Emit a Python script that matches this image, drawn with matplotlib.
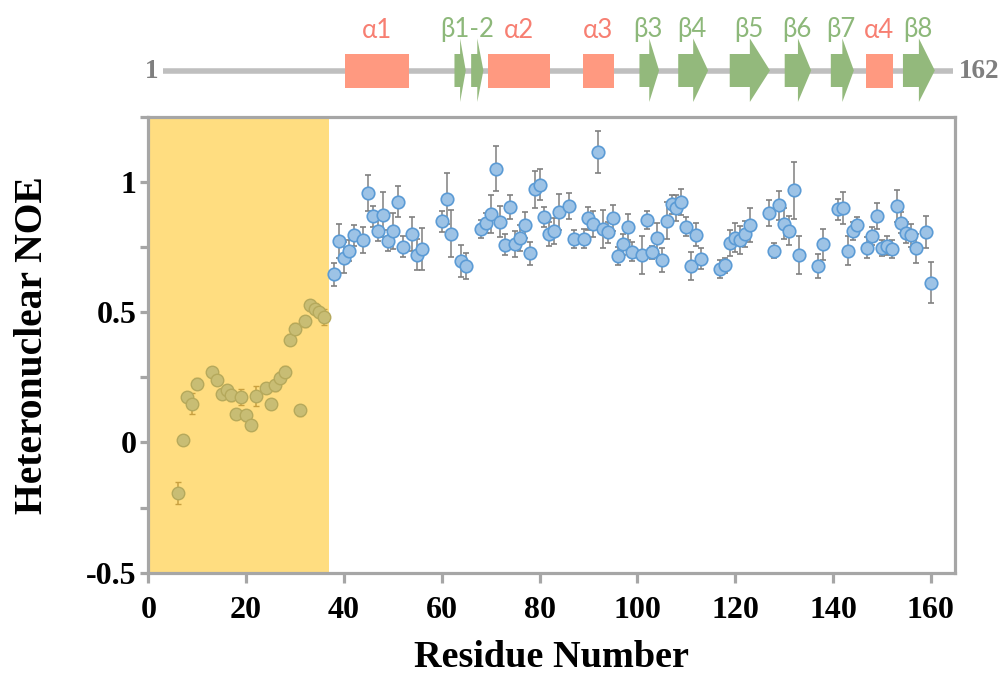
import matplotlib
matplotlib.use("Agg")
import matplotlib.pyplot as plt
from matplotlib.patches import Rectangle, Polygon
import numpy as np

# disordered N-terminal region (shaded)
res_n = [6, 7, 8, 9, 10, 13, 14, 15, 16, 17, 18, 19, 20, 21, 22, 24, 25, 26, 27, 28,
         29, 30, 31, 32, 33, 34, 35, 36]
noe_n = [-0.193, 0.009, 0.175, 0.148, 0.226, 0.271, 0.239, 0.187, 0.200, 0.181, 0.110,
         0.174, 0.104, 0.066, 0.178, 0.210, 0.147, 0.219, 0.249, 0.272, 0.395, 0.437,
         0.123, 0.465, 0.526, 0.514, 0.501, 0.481]
err_n = [0.042, 0.02, 0.02, 0.04, 0.02, 0.02, 0.02, 0.02, 0.02, 0.02, 0.02, 0.03, 0.02,
         0.02, 0.038, 0.02, 0.02, 0.02, 0.02, 0.02, 0.02, 0.02, 0.02, 0.02, 0.02, 0.02,
         0.02, 0.03]

# folded region
res_f = [38, 39, 40, 41, 42, 44, 45, 46, 47, 48, 49, 50, 51, 52, 54, 55, 56, 60, 61, 62,
         64, 65, 68, 69, 70, 71, 72, 73, 74, 75, 76, 77, 78, 79, 80, 81, 82, 83, 84, 86,
         87, 89, 90, 91, 92, 93, 94, 95, 96, 97, 98, 99, 101, 102, 103, 104, 105, 106,
         107, 108, 109, 110, 111, 112, 113, 117, 118, 119, 120, 121, 122, 123, 127, 128,
         129, 130, 131, 132, 133, 137, 138, 141, 142, 143, 144, 145, 147, 148, 149, 150,
         151, 152, 153, 154, 155, 156, 157, 159, 160]
noe_f = [0.646, 0.774, 0.710, 0.737, 0.796, 0.779, 0.959, 0.868, 0.813, 0.875, 0.775,
         0.813, 0.925, 0.751, 0.802, 0.721, 0.742, 0.850, 0.936, 0.802, 0.697, 0.678,
         0.821, 0.843, 0.876, 1.051, 0.848, 0.760, 0.904, 0.762, 0.784, 0.834, 0.726,
         0.972, 0.990, 0.866, 0.800, 0.812, 0.885, 0.907, 0.780, 0.783, 0.861, 0.840,
         1.115, 0.821, 0.807, 0.863, 0.716, 0.761, 0.826, 0.733, 0.719, 0.854, 0.730,
         0.784, 0.700, 0.852, 0.914, 0.902, 0.923, 0.829, 0.677, 0.798, 0.705, 0.665,
         0.680, 0.766, 0.787, 0.778, 0.800, 0.834, 0.883, 0.737, 0.911, 0.840, 0.813,
         0.968, 0.719, 0.678, 0.761, 0.895, 0.900, 0.737, 0.812, 0.836, 0.748, 0.793,
         0.870, 0.746, 0.756, 0.743, 0.908, 0.844, 0.806, 0.795, 0.746, 0.807, 0.614]
err_f = [0.045, 0.065, 0.06, 0.04, 0.04, 0.05, 0.07, 0.04, 0.04, 0.085, 0.04, 0.07, 0.06,
         0.04, 0.065, 0.06, 0.08, 0.04, 0.097, 0.09, 0.06, 0.05, 0.035, 0.04, 0.073,
         0.086, 0.06, 0.04, 0.045, 0.05, 0.05, 0.05, 0.045, 0.07, 0.06, 0.04, 0.045, 0.05,
         0.07, 0.05, 0.035, 0.035, 0.045, 0.05, 0.08, 0.073, 0.04, 0.05, 0.035, 0.04, 0.05,
         0.035, 0.073, 0.035, 0.025, 0.06, 0.045, 0.07, 0.035, 0.05, 0.05, 0.035, 0.055,
         0.045, 0.04, 0.035, 0.03, 0.05, 0.055, 0.055, 0.05, 0.065, 0.05, 0.03, 0.055,
         0.06, 0.055, 0.109, 0.072, 0.045, 0.06, 0.04, 0.06, 0.055, 0.035, 0.03, 0.04,
         0.035, 0.05, 0.03, 0.035, 0.035, 0.06, 0.04, 0.04, 0.045, 0.055, 0.062, 0.079]

# secondary structure (residue ranges)
helix_names = ["α1", "α2", "α3", "α4"]
helix_ranges = [(38.1, 51.1), (67.2, 79.8), (86.5, 92.9), (144.2, 149.8)]
strand_names = ["β3", "β4", "β5", "β6", "β7", "β8"]
strand_ranges = [(98.1, 102.1), (106.0, 112.1), (116.5, 124.7), (127.7, 133.1),
                 (137.1, 141.8), (151.8, 158.3)]
strand12_ranges = [(60.4, 62.7), (63.8, 66.3)]
seq_len = 162

W, H = 1001, 674
fig = plt.figure(figsize=(W / 100, H / 100), dpi=100)

serif = "Liberation Serif"
gray = "#A6A6A6"

# main axes
x0, x1, ytop, ybot = 148.3, 955.2, 117, 572.6
ax = fig.add_axes([x0 / W, 1 - ybot / H, (x1 - x0) / W, (ybot - ytop) / H])
ax.axvspan(0, 37, color="#FFDD80", zorder=0, lw=0)

ax.errorbar(res_n, noe_n, yerr=err_n, fmt="o", ms=9, mfc="#C8BD74", mec="#B5A95C",
            mew=1.0, ecolor="#C9A040", elinewidth=1.1, capsize=2.5, capthick=1.1, zorder=3)
ax.errorbar(res_f, noe_f, yerr=err_f, fmt="o", ms=9, mfc="#9DC3E6", mec="#5B9BD5",
            mew=1.2, ecolor="#808080", elinewidth=1.1, capsize=2.5, capthick=1.1, zorder=3)

ax.set_xlim(0, 165)
ax.set_ylim(-0.5, 1.25)
ax.set_xticks(np.arange(0, 161, 20))
ax.set_yticks([-0.5, 0, 0.5, 1])
ax.set_yticklabels(["-0.5", "0", "0.5", "1"])
ax.set_yticks([-0.25, 0.25, 0.75, 1.25], minor=True)
for s in ax.spines.values():
    s.set_color(gray)
    s.set_linewidth(2.3)
ax.tick_params(which="both", direction="out", color=gray, width=2.3)
ax.tick_params(axis="x", length=7, pad=10)
ax.tick_params(axis="y", which="both", length=5.5, pad=3)
for lab in ax.get_xticklabels() + ax.get_yticklabels():
    lab.set_fontfamily(serif)
    lab.set_fontweight("bold")
    lab.set_fontsize(23)
ax.set_xlabel("Residue Number", fontfamily=serif, fontweight="bold", fontsize=27.5, labelpad=11)
ax.set_ylabel("Heteronuclear NOE", fontfamily=serif, fontweight="bold", fontsize=28.5, labelpad=25)

# secondary structure track: x in residues, y in pixels (from top)
tx0, tx1 = 163, 953
px_per_res = (tx1 - tx0) / (seq_len - 1)
tleft = tx0 - px_per_res * 1
tright = tx1 + px_per_res * (200 - seq_len)
tax = fig.add_axes([tleft / W, 1 - 110 / H, (tright - tleft) / W, 110 / H])
tax.set_xlim(0, 200)
tax.set_ylim(110, 0)
tax.axis("off")
tax.plot([1, seq_len], [71, 71], color="#BFBFBF", lw=4, solid_capstyle="butt", zorder=1)
fig.text(152 / W, 1 - 72 / H, "1", fontfamily=serif, fontweight="bold", fontsize=19.5,
         color="#7F7F7F", ha="center", va="center")
fig.text(979 / W, 1 - 72 / H, str(seq_len), fontfamily=serif, fontweight="bold",
         fontsize=19.5, color="#7F7F7F", ha="center", va="center")

helix_c, strand_c = "#FF9980", "#93B97C"
helix_tc, strand_tc = "#F77F72", "#8DB87A"
sans = "Lato"


def strand(a, b):
    m = (a + b) / 2
    pts = [(a, 54), (m, 54), (m, 38.5), (b, 70.5), (m, 102), (m, 87), (a, 87)]
    tax.add_patch(Polygon(pts, closed=True, fc=strand_c, ec="none", zorder=2))


for name, (a, b) in zip(helix_names, helix_ranges):
    tax.add_patch(Rectangle((a, 53.5), b - a, 34.5, fc=helix_c, ec="none", zorder=2))
    tax.text((a + b) / 2, 30, name, fontfamily=sans, fontsize=18.5, color=helix_tc,
             ha="center", va="center")
for name, (a, b) in zip(strand_names, strand_ranges):
    strand(a, b)
    tax.text((a + b) / 2 - 0.2, 29, name, fontfamily=sans, fontsize=18.5, color=strand_tc,
             ha="center", va="center")
for a, b in strand12_ranges:
    strand(a, b)
tax.text(63.0, 29, "β1-2", fontfamily=sans, fontsize=18.5, color=strand_tc,
         ha="center", va="center")

fig.savefig("out.png", dpi=100)
